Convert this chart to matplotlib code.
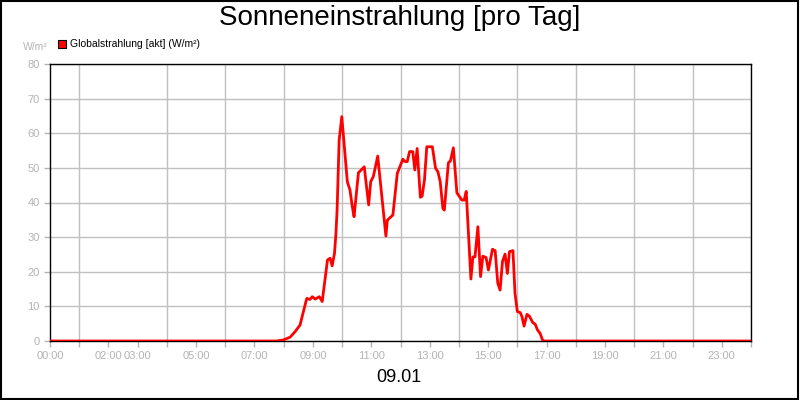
import matplotlib
matplotlib.use("Agg")
import matplotlib.pyplot as plt
from matplotlib.patches import Rectangle

plt.rcParams['font.family'] = ['Liberation Sans', 'DejaVu Sans']

# time of day in hours, global radiation in W/m²
hours = [0.0, 7.74, 7.99, 8.22, 8.39, 8.56, 8.79, 8.90, 8.98, 9.08, 9.22, 9.32,
         9.50, 9.59, 9.66, 9.74, 9.79, 9.83, 9.90, 9.99, 10.18, 10.27, 10.35,
         10.41, 10.56, 10.76, 10.85, 10.91, 10.98, 11.07, 11.22, 11.50, 11.55,
         11.74, 11.89, 12.08, 12.16, 12.23, 12.31, 12.42, 12.49, 12.57, 12.68,
         12.74, 12.82, 12.90, 13.09, 13.20, 13.28, 13.36, 13.45, 13.50, 13.64,
         13.71, 13.81, 13.93, 14.10, 14.18, 14.25, 14.41, 14.48, 14.55, 14.65,
         14.74, 14.82, 14.93, 15.01, 15.15, 15.24, 15.33, 15.41, 15.49, 15.58,
         15.66, 15.73, 15.85, 15.92, 16.00, 16.10, 16.16, 16.23, 16.33, 16.41,
         16.53, 16.61, 16.69, 16.78, 16.87, 16.95, 24.0]
radiation = [0, 0, 0.3, 1.1, 2.7, 4.6, 12.3, 12.0, 12.8, 12.1, 12.8, 11.4,
             23.4, 23.9, 21.7, 25.3, 31.1, 38.0, 58.0, 64.8, 46.0, 43.6, 38.8,
             35.9, 48.6, 50.3, 43.6, 39.3, 46.0, 47.5, 53.4, 30.3, 34.9,
             36.4, 48.4, 52.5, 51.8, 51.8, 54.7, 54.7, 49.4, 55.6, 41.5,
             41.8, 46.5, 56.1, 56.1, 49.9, 48.9, 46.0, 38.3, 37.8, 51.5,
             52.0, 55.8, 42.8, 40.7, 40.7, 43.2, 17.9, 24.3, 24.3, 33.0,
             18.6, 24.5, 24.1, 20.5, 26.5, 26.1, 16.7, 14.7, 22.9, 25.1,
             19.5, 25.8, 26.1, 13.8, 8.5, 8.2, 7.0, 4.3, 7.7, 7.2,
             5.3, 4.9, 3.2, 2.2, 0.1, 0, 0]

tick_hours = [0, 2, 3, 5, 7, 9, 11, 13, 15, 17, 19, 21, 23]
tick_labels = ['00:00', '02:00', '03:00', '05:00', '07:00', '09:00', '11:00',
               '13:00', '15:00', '17:00', '19:00', '21:00', '23:00']

grey = '#b4b4b4'

fig = plt.figure(figsize=(8, 4), dpi=100)
ax = fig.add_axes([50 / 800, 59 / 400, 701 / 800, 277 / 400])

ax.plot(hours, radiation, color='#ff0000', linewidth=2, zorder=3)

ax.set_xlim(0, 24)
ax.set_ylim(0, 80)
ax.set_xticks(tick_hours, labels=tick_labels)
ax.set_xticks(range(0, 25), minor=True)
ax.set_yticks(range(0, 81, 10))
ax.grid(True, which='minor', axis='x', color='#c0c0c0', linewidth=1)
ax.grid(True, which='major', axis='y', color='#c0c0c0', linewidth=1)
ax.tick_params(axis='both', which='both', colors=grey, labelcolor=grey,
               labelsize=8, length=4, width=1)
for s in ax.spines.values():
    s.set_color('black')
    s.set_linewidth(1)
ax.set_axisbelow(True)

fig.text(0.5, 0.955, 'Sonneneinstrahlung [pro Tag]', ha='center', va='center',
         fontsize=20)
fig.text(399 / 800, 1 - 378 / 400, '09.01', ha='center', va='center', fontsize=13)
fig.text(48 / 800, 1 - 47 / 400, 'W/m²', ha='right', va='center', fontsize=7.5,
         color=grey)
fig.patches.append(Rectangle((58 / 800, 1 - 48 / 400), 8 / 800, 8 / 400,
                             transform=fig.transFigure, facecolor='#ff0000',
                             edgecolor='black', linewidth=0.8))
fig.text(70 / 800, 1 - 44 / 400, 'Globalstrahlung [akt] (W/m²)', ha='left',
         va='center', fontsize=7.5)
fig.patches.append(Rectangle((0.001, 0.002), 0.997, 0.995,
                             transform=fig.transFigure, facecolor='none',
                             edgecolor='black', linewidth=1.5))

fig.savefig('out.png', dpi=100)
